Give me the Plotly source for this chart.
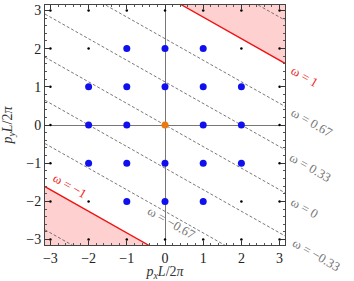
import numpy as np
import plotly.graph_objects as go

# lattice
lattice_vals = [-3, -2, -1, 0, 1, 2, 3]
# occupied (blue) momenta
blue_px = [-1, 0, 1, -2, -1, 0, 1, 2, -2, -1, 1, 2, -2, -1, 0, 1, 2, -1, 0, 1]
blue_py = [2, 2, 2, 1, 1, 1, 1, 1, 0, 0, 0, 0, -1, -1, -1, -1, -1, -2, -2, -2]
origin_px = [0]
origin_py = [0]

# omega = A*px + B*py
A_coef = 1 / 6
B_coef = 0.295
dashed_omegas = [-1.333, -0.667, -0.333, 0.0, 0.333, 0.667, 1.333]
red_omegas = [-1.0, 1.0]

label_texts = ["ω = 1", "ω = 0.67", "ω = 0.33", "ω = 0", "ω = −0.33", "ω = −1", "ω = −0.67"]
label_colors = ["#ee2222", "#777777", "#777777", "#777777", "#777777", "#ee2222", "#777777"]
label_x = [3.66, 3.85, 3.82, 3.64, 3.95, -2.50, 0.16]
label_y = [1.26, 0.06, -1.10, -2.17, -3.40, -1.58, -2.56]

PI = np.pi
fig = go.Figure()

def line_y(w, x):
    return (w - A_coef * x) / B_coef

xs = np.array([-PI, PI])

# shaded regions
w = 1.0
xt = (w - B_coef * PI) / A_coef
fig.add_trace(go.Scatter(x=[xt, PI, PI, xt], y=[PI, PI, line_y(w, PI), PI], fill="toself",
                         fillcolor="rgba(255,150,150,0.45)", line=dict(width=0), mode="lines",
                         hoverinfo="skip", showlegend=False))
w = -1.0
xb = (w + B_coef * PI) / A_coef
fig.add_trace(go.Scatter(x=[-PI, -PI, xb, -PI], y=[line_y(w, -PI), -PI, -PI, line_y(w, -PI)], fill="toself",
                         fillcolor="rgba(255,150,150,0.45)", line=dict(width=0), mode="lines",
                         hoverinfo="skip", showlegend=False))

for w in dashed_omegas:
    fig.add_trace(go.Scatter(x=xs, y=line_y(w, xs), mode="lines",
                             line=dict(color="#555555", width=0.8, dash="3px,2px"),
                             showlegend=False, hoverinfo="skip"))
for w in red_omegas:
    fig.add_trace(go.Scatter(x=xs, y=line_y(w, xs), mode="lines",
                             line=dict(color="#ee1111", width=1.3),
                             showlegend=False, hoverinfo="skip"))

gx, gy = np.meshgrid(lattice_vals, lattice_vals)
fig.add_trace(go.Scatter(x=gx.ravel(), y=gy.ravel(), mode="markers",
                         marker=dict(color="black", size=2.5), showlegend=False))
fig.add_trace(go.Scatter(x=blue_px, y=blue_py, mode="markers",
                         marker=dict(color="#1010ee", size=7), showlegend=False))
fig.add_trace(go.Scatter(x=origin_px, y=origin_py, mode="markers",
                         marker=dict(color="#e87a10", size=7), showlegend=False))

for t, c, x, y in zip(label_texts, label_colors, label_x, label_y):
    fig.add_annotation(x=(x + PI) / (2 * PI), y=(y + PI) / (2 * PI), xref="paper", yref="paper",
                       text=t, showarrow=False, textangle=30,
                       font=dict(family="Liberation Serif", size=13, color=c),
                       xanchor="center", yanchor="middle")

axis_common = dict(range=[-PI, PI], tickvals=[-3, -2, -1, 0, 1, 2, 3],
                   ticktext=["−3", "−2", "−1", "0", "1", "2", "3"],
                   ticks="inside", ticklen=4, tickwidth=0.8, tickcolor="#333333",
                   mirror="allticks", showline=True, linecolor="#444444", linewidth=1,
                   showgrid=False, zeroline=True, zerolinecolor="#777777", zerolinewidth=1,
                   automargin=False,
                   minor=dict(ticks="inside", ticklen=2, dtick=0.2, tickcolor="#555555", tickwidth=0.6),
                   tickfont=dict(family="Liberation Serif", size=14, color="#222222"))

fig.update_xaxes(**axis_common, title=dict(text="<i>p<sub>x</sub>L</i>/2<i>π</i>",
                                           font=dict(family="Liberation Serif", size=14, color="#333333")))
fig.update_yaxes(**axis_common, title=dict(text="<i>p<sub>y</sub>L</i>/2<i>π</i>",
                                           font=dict(family="Liberation Serif", size=14, color="#333333")))

fig.update_layout(width=354, height=281, margin=dict(l=45, r=69, t=5, b=36),
                  plot_bgcolor="white", paper_bgcolor="white", showlegend=False)

fig.write_html("out.html", config={"displayModeBar": False},
               post_script="document.body.style.margin='0';")
